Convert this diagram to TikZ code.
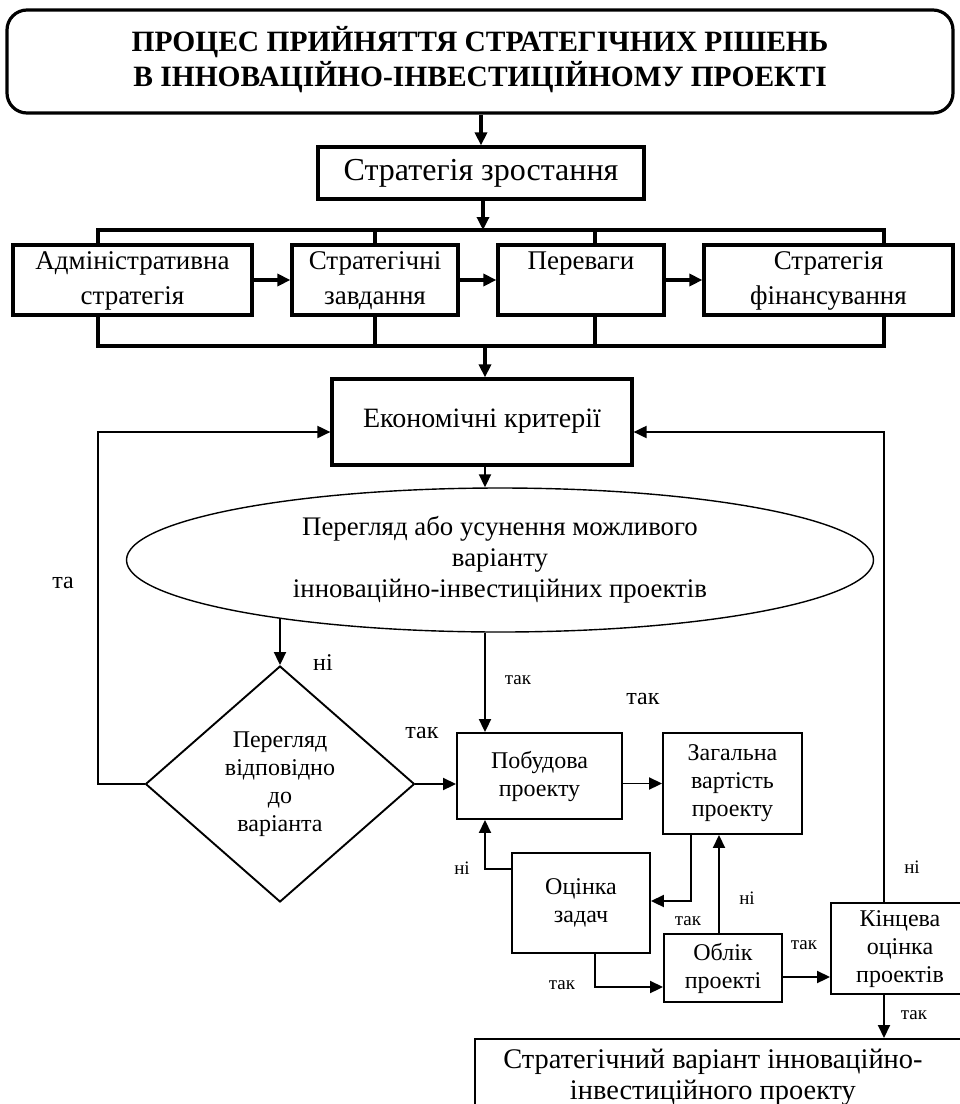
\documentclass[tikz,border=0pt]{standalone}
\usepackage{fontspec}
\setmainfont{Liberation Serif}
\usetikzlibrary{arrows.meta,shapes.geometric,calc}
\newcommand{\twol}[2]{\raisebox{-4pt}{\begin{tabular}{@{}c@{}}#1\\#2\end{tabular}}}
\begin{document}
\begin{tikzpicture}[x=1pt,y=-1pt,
  thickbox/.style={draw,line width=3.2pt,align=center,inner sep=0pt,font=\fontsize{27}{35}\selectfont},
  thinbox/.style={draw,line width=1.9pt,align=center,inner sep=0pt,font=\fontsize{24}{28}\selectfont},
  arr/.style={-{Triangle[length=13pt,width=12pt]},line width=1.9pt},
  tarr/.style={-{Triangle[length=13pt,width=12pt]},line width=3.2pt},
  thk/.style={line width=3.2pt},
  lbl/.style={font=\fontsize{19}{22}\selectfont,inner sep=0pt},
  biglbl/.style={font=\fontsize{24}{26}\selectfont,inner sep=0pt},
]
\useasboundingbox (0,0) rectangle (960,1104);
\fill[white] (0,0) rectangle (960,1104);

% title
\node[draw,line width=3.2pt,rounded corners=20pt,minimum width=946pt,minimum height=103pt,align=center,inner sep=0pt,
  font=\bfseries\fontsize{29.5}{33}\selectfont] (title) at (480,61.5)
  {\raisebox{3pt}{\begin{tabular}{@{}c@{}}ПРОЦЕС ПРИЙНЯТТЯ СТРАТЕГІЧНИХ РІШЕНЬ\\В ІННОВАЦІЙНО-ІНВЕСТИЦІЙНОМУ ПРОЕКТІ\end{tabular}}};

\node[thickbox,minimum width=326pt,minimum height=52pt,font=\fontsize{32}{35}\selectfont] (sz) at (481,173) {Стратегія зростання};
\draw[tarr] (title.south -| sz.north) -- (sz.north);

% row of boxes
\node[thickbox,minimum width=239pt,minimum height=66pt] (b1) at (132.5,280) {\twol{Адміністративна}{стратегія}};
\node[thickbox,minimum width=166pt,minimum height=66pt] (b2) at (375,280) {\twol{Стратегічні}{завдання}};
\node[thickbox,minimum width=166pt,minimum height=66pt] (b3) at (581,280) {\twol{Переваги}{\strut}};
\node[thickbox,minimum width=249pt,minimum height=66pt] (b4) at (828.5,280) {\twol{Стратегія}{фінансування}};

\coordinate (tb) at (483,230);
\coordinate (tbL) at (98,230);
\coordinate (tbR) at (884,230);
\coordinate (tb3) at (595,230);
\coordinate (bb0) at (485,346);
\coordinate (bbL) at (98,346);
\coordinate (bbR) at (884,346);
\coordinate (bb3) at (595,346);

\draw[tarr] (sz.south -| tb) -- (tb);
\draw[thk,line cap=rect] (tbL) -- (tbR);
\draw[thk] (tbL) -- (tbL |- b1.north);
\draw[thk] (b2.north |- tbL) -- (b2.north);
\draw[thk] (tb3) -- (tb3 |- b3.north);
\draw[thk] (tbR) -- (tbR |- b4.north);

\draw[tarr] (b1.east) -- (b2.west);
\draw[tarr] (b2.east) -- (b3.west);
\draw[tarr] (b3.east) -- (b4.west);

\draw[thk,line cap=rect] (bbL) -- (bbR);
\draw[thk] (bbL |- b1.south) -- (bbL);
\draw[thk] (b2.south) -- (b2.south |- bbL);
\draw[thk] (bb3 |- b3.south) -- (bb3);
\draw[thk] (bbR |- b4.south) -- (bbR);

% economic criteria
\node[thickbox,minimum width=300pt,minimum height=86pt,font=\fontsize{28}{30}\selectfont] (ek) at (482,422) {\raisebox{8pt}{Економічні критерії}};
\draw[tarr] (bb0) -- (bb0 |- ek.north);

% ellipse
\coordinate (xc) at (485,0);
\node[ellipse,draw,line width=1.4pt,minimum width=747pt,minimum height=144pt,inner sep=0pt,align=center,
  font=\fontsize{26.8}{31}\selectfont] (el) at (500,560)
  {Перегляд або усунення можливого\\варіанту\\інноваційно-інвестиційних проектів};
\draw[arr] (ek.south -| xc) -- (el.north -| xc);

% diamond
\node[diamond,draw,line width=1.9pt,minimum width=269pt,minimum height=236pt,inner sep=0pt,align=center,
  font=\fontsize{24}{28}\selectfont] (dm) at (280,784) {Перегляд\\відповідно\\до\\варіанта};
\draw[arr] (el.195 -| dm.north) -- (dm.north);

% feedback left
\coordinate (fl) at (98,432);
\draw[arr] (dm.west) -| (fl) -- (fl -| ek.west);

% lower boxes
\node[thinbox,minimum width=165pt,minimum height=86pt] (pb) at (539.5,776) {Побудова\\проекту};
\node[thinbox,minimum width=139pt,minimum height=101pt] (zv) at (732.5,783.5) {Загальна\\вартість\\проекту};
\node[thinbox,minimum width=138pt,minimum height=100pt] (oz) at (581,903) {\raisebox{10pt}{\begin{tabular}{@{}c@{}}Оцінка\\задач\end{tabular}}};
\node[thinbox,minimum width=118pt,minimum height=68pt] (ob) at (723,968) {Облік\\проекті};
\node[thinbox,minimum width=150pt,minimum height=91pt] (ko) at (906,948.5) {\begin{tabular}{@{}c@{}}Кінцева\\оцінка\\проектів\end{tabular}\hspace*{12pt}};
\node[thinbox,minimum width=500pt,minimum height=78pt,font=\fontsize{28.4}{31}\selectfont,anchor=north west] (bb) at (474,1038)
  {\begin{tabular}{@{}c@{}}Стратегічний варіант інноваційно-\\інвестиційного проекту\end{tabular}\hspace*{24pt}};

% feedback right
\coordinate (fr) at (884,432);
\draw[arr] (ko.north -| fr) -- (fr) -- (fr -| ek.east);

% connectors
\draw[arr] (dm.east) -- (dm.east -| pb.west);
\draw[arr] (el.south -| xc) -- (pb.north -| xc);
\draw[arr] (pb.east |- zv.west) -- (zv.west);
\draw[arr] ([yshift=-17pt]oz.north west) -| (pb.south -| xc);
\draw[arr] ([xshift=29pt]zv.south west) |- ([yshift=2pt]oz.east);
\draw[arr] ([xshift=-4pt]ob.north) -- ([xshift=-4pt]ob.north |- zv.south);
\draw[arr] ([xshift=14pt]oz.south) |- ([yshift=-19pt]ob.west);
\draw[arr] ([yshift=-9pt]ob.east) -- ([yshift=-9pt]ob.east -| ko.west);
\draw[arr] (ko.south -| fr) -- (bb.north -| fr);

% labels
\node[biglbl] (l1) at (63,583) {та};
\node[biglbl] (l2) at (323,663) {ні};
\node[biglbl] (l3) at (422,733) {так};
\node[lbl] (l4) at (518,680) {так};
\node[biglbl] (l5) at (643,699) {так};
\node[lbl] (l6) at (462,868) {ні};
\node[lbl] (l7) at (688,921) {так};
\node[lbl] (l8) at (747,898) {ні};
\node[lbl] (l9) at (912,867) {ні};
\node[lbl] (l10) at (562,985) {так};
\node[lbl] (l11) at (804,945) {так};
\node[lbl] (l12) at (914,1015) {так};
\end{tikzpicture}
\end{document}
